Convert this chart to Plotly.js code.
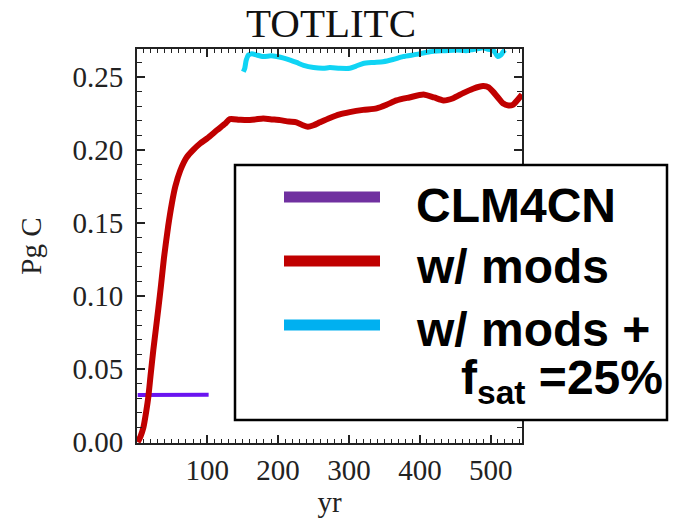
<!DOCTYPE html>
<html>
<head>
<meta charset="utf-8">
<script src="https://cdn.plot.ly/plotly-3.0.1.min.js"></script>
<style>html,body{margin:0;padding:0;background:#fff;}#chart{width:675px;height:521px;}</style>
</head>
<body>
<div id="chart"></div>
<script>
// ---- data ----
const seriesNames = ["CLM4CN", "w/ mods", "w/ mods +"];
const clmYears = [2, 10, 20, 30, 40, 50, 60, 70, 80, 90, 102];
const clmVals  = [0.0322, 0.0322, 0.0321, 0.0321, 0.0322, 0.0322, 0.0324, 0.0323, 0.0323, 0.0324, 0.0324];

const modYears = [2, 6, 10, 14, 17, 20, 24, 28, 31, 35, 39, 45, 50, 55, 62, 71, 80, 90, 100, 114, 125, 132, 145, 156, 168, 179, 192, 203, 215, 226, 235, 242, 250, 259, 273, 287, 301, 320, 339, 353, 367, 385, 405, 420, 433, 447, 461, 475, 489, 497, 503, 510, 517, 525, 531, 538, 544];
const modVals  = [0.000, 0.004, 0.010, 0.021, 0.031, 0.045, 0.063, 0.079, 0.091, 0.108, 0.126, 0.148, 0.163, 0.175, 0.186, 0.195, 0.200, 0.2045, 0.208, 0.2137, 0.218, 0.2212, 0.2208, 0.2205, 0.221, 0.2216, 0.221, 0.2205, 0.2195, 0.219, 0.217, 0.216, 0.217, 0.219, 0.222, 0.2245, 0.226, 0.2275, 0.2285, 0.231, 0.234, 0.236, 0.238, 0.236, 0.234, 0.2355, 0.239, 0.242, 0.2438, 0.243, 0.240, 0.236, 0.232, 0.2305, 0.231, 0.2345, 0.238];

const satYears = [151, 153, 155, 158, 163, 170, 179, 190, 198, 208, 217, 226, 236, 250, 264, 273, 287, 301, 310, 320, 334, 348, 362, 376, 395, 414, 433, 452, 465, 475, 483, 489, 496, 503, 507, 510, 514, 517, 520];
const satVals  = [0.2536, 0.256, 0.2615, 0.265, 0.266, 0.265, 0.264, 0.2645, 0.264, 0.263, 0.2616, 0.260, 0.258, 0.2565, 0.256, 0.2565, 0.256, 0.256, 0.2575, 0.2593, 0.260, 0.2605, 0.262, 0.264, 0.2655, 0.2673, 0.268, 0.2685, 0.268, 0.2689, 0.2695, 0.2700, 0.269, 0.2685, 0.266, 0.264, 0.265, 0.267, 0.2685];

const xTickVals = [100, 200, 300, 400, 500];
const yTickVals = [0.00, 0.05, 0.10, 0.15, 0.20, 0.25];

// ---- layout geometry (pixels) ----
const W = 675, H = 521;
const PL = 137, PR = 522, PT = 49, PB = 443;
const px = x => (x - PL) / (PR - PL);
const py = y => (PB - y) / (PB - PT);

const serif = "Liberation Serif, Times New Roman, serif";
const sans = "Liberation Sans, Arial, sans-serif";

const traces = [
  {x: clmYears, y: clmVals, name: seriesNames[0], mode: "lines", line: {color: "#6a14f0", width: 4}, showlegend: false},
  {x: modYears, y: modVals, name: seriesNames[1], mode: "lines", line: {color: "#c00000", width: 6, shape: "spline", smoothing: 0.6}, showlegend: false},
  {x: satYears, y: satVals, name: seriesNames[2], mode: "lines", line: {color: "#10d4f4", width: 5, shape: "spline", smoothing: 0.6}, showlegend: false}
];

const axisCommon = {
  showgrid: false, zeroline: false,
  showline: true, linecolor: "#222", linewidth: 2, mirror: "ticks",
  ticks: "inside", ticklen: 8, tickwidth: 1.5, tickcolor: "#222",
  tickfont: {family: serif, size: 29, color: "#222"}
};

const layout = {
  width: W, height: H,
  paper_bgcolor: "#fff", plot_bgcolor: "#fff",
  margin: {l: PL, r: W - PR, t: PT, b: H - PB, pad: 0},
  title: {text: "TOTLITC", font: {family: serif, size: 41, color: "#111"}, x: px(331), xref: "paper", xanchor: "center", y: 1 - 23 / H, yanchor: "middle"},
  xaxis: Object.assign({}, axisCommon, {
    range: [1, 544], tickvals: xTickVals, ticktext: xTickVals.map(String),
    minor: {dtick: 10, tick0: 0, ticks: "inside", ticklen: 4, tickwidth: 1, tickcolor: "#222"},
    title: {text: "yr", font: {family: serif, size: 29, color: "#222"}, standoff: 7}
  }),
  yaxis: Object.assign({}, axisCommon, {
    range: [-0.0006, 0.2692], tickvals: yTickVals, ticktext: yTickVals.map(v => v.toFixed(2)),
    minor: {dtick: 0.01, tick0: 0, ticks: "inside", ticklen: 5, tickwidth: 1, tickcolor: "#222"},
    ticklabelstandoff: 6,
    title: {text: "Pg C", font: {family: serif, size: 29, color: "#222"}, standoff: 22}
  }),
  shapes: [
    {type: "rect", xref: "paper", yref: "paper", x0: px(235), x1: px(667), y0: py(420), y1: py(165), line: {color: "#000", width: 2.5}, fillcolor: "#fff", layer: "above"},
    {type: "line", xref: "paper", yref: "paper", x0: px(284), x1: px(380), y0: py(197), y1: py(197), line: {color: "#7030a0", width: 11}},
    {type: "line", xref: "paper", yref: "paper", x0: px(284), x1: px(380), y0: py(261), y1: py(261), line: {color: "#c00000", width: 11}},
    {type: "line", xref: "paper", yref: "paper", x0: px(284), x1: px(380), y0: py(325), y1: py(325), line: {color: "#00b0f0", width: 11}}
  ],
  annotations: [
    {xref: "paper", yref: "paper", x: px(414), y: py(205), xanchor: "left", yanchor: "middle", showarrow: false, text: "<b>" + seriesNames[0] + "</b>", font: {family: sans, size: 48, color: "#000"}},
    {xref: "paper", yref: "paper", x: px(414), y: py(266), xanchor: "left", yanchor: "middle", showarrow: false, text: "<b>" + seriesNames[1] + "</b>", font: {family: sans, size: 48, color: "#000"}},
    {xref: "paper", yref: "paper", x: px(414), y: py(329), xanchor: "left", yanchor: "middle", showarrow: false, text: "<b>" + seriesNames[2] + "</b>", font: {family: sans, size: 48, color: "#000"}},
    {xref: "paper", yref: "paper", x: px(459), y: py(381), xanchor: "left", yanchor: "middle", showarrow: false, text: "<b>f<sub>sat</sub> =25%</b>", font: {family: sans, size: 48, color: "#000"}}
  ]
};

Plotly.newPlot("chart", traces, layout, {displayModeBar: false, staticPlot: true});
</script>
</body>
</html>
